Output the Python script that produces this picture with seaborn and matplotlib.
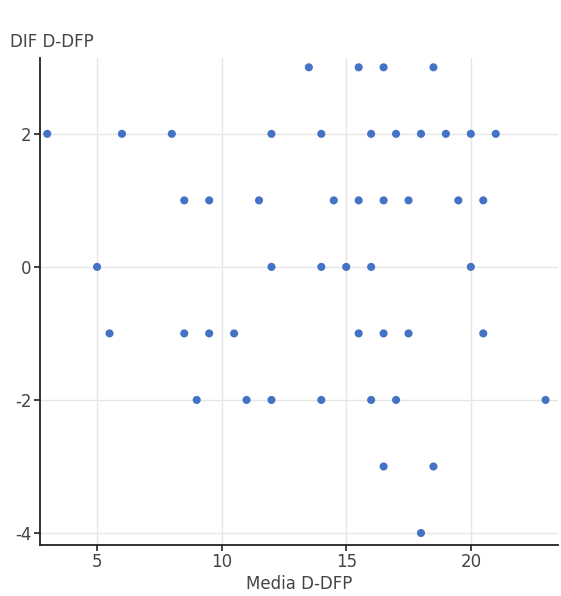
import matplotlib
matplotlib.use("Agg")
import matplotlib.pyplot as plt
import seaborn as sns
import pandas as pd

# Mean of D and DFP vs. their difference
media = [13.5, 15.5, 16.5, 18.5,
         3, 6, 8, 12, 14, 16, 17, 18, 19, 20, 21,
         8.5, 9.5, 11.5, 14.5, 15.5, 16.5, 17.5, 19.5, 20.5,
         5, 12, 14, 15, 16, 20,
         5.5, 8.5, 9.5, 10.5, 15.5, 16.5, 17.5, 20.5,
         9, 11, 12, 14, 16, 17, 23,
         16.5, 18.5,
         18]
dif = [3, 3, 3, 3,
       2, 2, 2, 2, 2, 2, 2, 2, 2, 2, 2,
       1, 1, 1, 1, 1, 1, 1, 1, 1,
       0, 0, 0, 0, 0, 0,
       -1, -1, -1, -1, -1, -1, -1, -1,
       -2, -2, -2, -2, -2, -2, -2,
       -3, -3,
       -4]
x_ticks = [5, 10, 15, 20]
y_ticks = [-4, -2, 0, 2]

df = pd.DataFrame({"Media D-DFP": media, "DIF D-DFP": dif})

sns.set_theme(style="white")
plt.rcParams["font.family"] = ["DejaVu Sans"]
plt.rcParams["axes.unicode_minus"] = False

fig = plt.figure(figsize=(5.61, 5.96), dpi=100)
ax = fig.add_axes([0.0713, 0.0856, 0.9234, 0.8171])

sns.scatterplot(data=df, x="Media D-DFP", y="DIF D-DFP", ax=ax,
                color="#4472c4", s=34, edgecolor="none", zorder=3)

ax.set_xlim(2.71, 23.5)
ax.set_ylim(-4.18, 3.14)
ax.set_xticks(x_ticks)
ax.set_yticks(y_ticks)
ax.grid(True, color="#e6e6e6", linewidth=1)
ax.set_axisbelow(True)

for side in ["top", "right"]:
    ax.spines[side].set_visible(False)
for side in ["left", "bottom"]:
    ax.spines[side].set_color("#222222")
    ax.spines[side].set_linewidth(1.3)

ax.tick_params(axis="both", direction="out", length=4, width=1.2,
               color="#222222", labelcolor="#444444", labelsize=12,
               left=True, bottom=True, pad=2)

ax.set_xlabel("Media D-DFP", fontsize=12, color="#444444", labelpad=3)
ax.set_ylabel("")
fig.text(0.018, 0.915, "DIF D-DFP", fontsize=12, color="#444444",
         ha="left", va="bottom")

fig.savefig("out.png", dpi=100, facecolor="white")
